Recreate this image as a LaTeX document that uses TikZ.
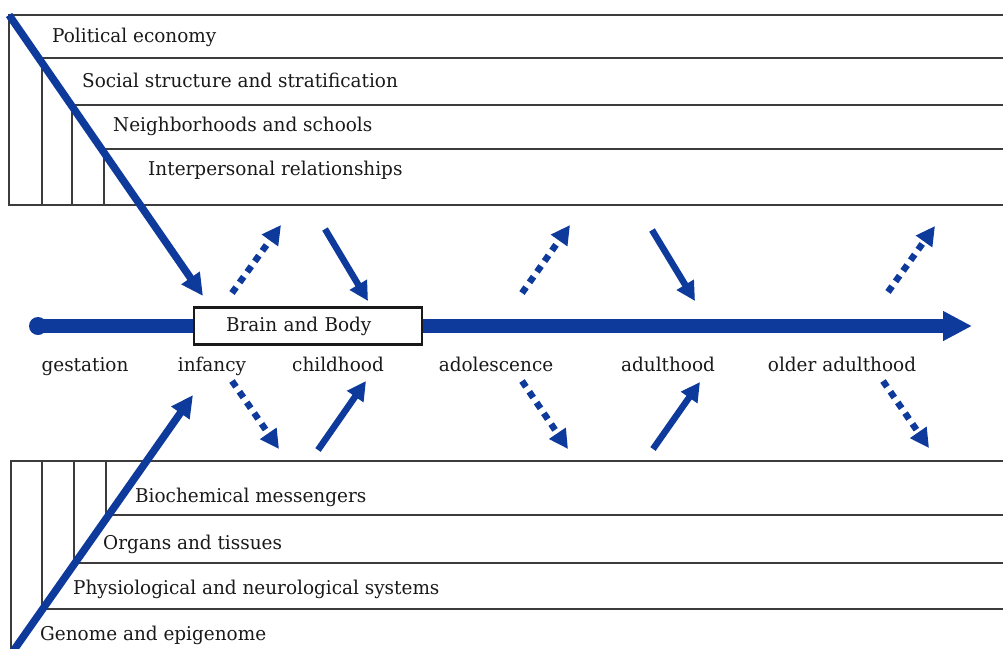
\documentclass[tikz,border=0pt]{standalone}
\usepackage{fontspec}
\setmainfont[FakeStretch=0.97]{DejaVu Serif}
\usetikzlibrary{arrows.meta}
\definecolor{lifeblue}{RGB}{14,58,155}
\definecolor{framegray}{RGB}{60,60,60}
\begin{document}
\begin{tikzpicture}[x=1pt,y=-1pt,
  frameline/.style={draw=framegray,line width=1.2pt},
  labelfont/.style={font=\fontsize{19}{22}\selectfont,text=black!90},
  level/.style={anchor=base west,inner sep=0pt,labelfont},
  stage/.style={anchor=base,inner sep=0pt,labelfont},
  flow/.style={draw=lifeblue,line width=6.5pt,-{Triangle[length=19pt,width=19pt]}},
  dotflow/.style={flow,dash pattern=on 7pt off 6pt},
  bigflow/.style={draw=lifeblue,line width=7.5pt,-{Triangle[length=22pt,width=21pt]}},
  axis/.style={draw=lifeblue,line width=14pt,-{Triangle[length=29pt,width=28pt]}},
  ]
\path[use as bounding box,clip] (0,0) rectangle (1003,648);

% upper nested frame: social context levels
\draw[frameline] (1010,15) -- (9,15) -- (9,205) -- (1010,205);
\draw[frameline] (1010,58) -- (42,58) -- (42,205);
\draw[frameline] (1010,105) -- (72,105) -- (72,205);
\draw[frameline] (1010,149) -- (104,149) -- (104,205);
\node[level] (pol) at (52,42) {Political economy};
\node[level] (soc) at (82,87) {Social structure and stratification};
\node[level] (nbh) at (113,131) {Neighborhoods and schools};
\node[level] (inter) at (148,175) {Interpersonal relationships};

% lower nested frame: biological levels
\draw[frameline] (1010,461) -- (11,461) -- (11,660);
\draw[frameline] (1010,515) -- (106,515) -- (106,461);
\draw[frameline] (1010,563) -- (74,563) -- (74,461);
\draw[frameline] (1010,609) -- (42,609) -- (42,461);
\node[level] (bio) at (135,502) {Biochemical messengers};
\node[level] (org) at (103,549) {Organs and tissues};
\node[level] (phys) at (73,594) {Physiological and neurological systems};
\node[level] (gen) at (40,640) {Genome and epigenome};

% life-course axis
\node[circle,fill=lifeblue,minimum size=18pt,inner sep=0pt] (origin) at (38,326) {};
\coordinate (axisend) at (972,326);
\draw[axis] (origin.center) -- (axisend);
\node[draw=black!90,line width=2.2pt,fill=white,anchor=west,minimum height=37pt,
      inner xsep=32pt,text width=164pt,align=left,labelfont] (bb) at (193,326) {Brain and Body};

% stages
\node[stage] (gest) at (85,371) {gestation};
\node[stage] (inf) at (212,371) {infancy};
\node[stage] (child) at (338,371) {childhood};
\node[stage] (adol) at (496,371) {adolescence};
\node[stage] (adult) at (668,371) {adulthood};
\node[stage] (older) at (842,371) {older adulthood};

% long diagonal influences
\coordinate (ctxsrc) at (9,15);
\coordinate (ctxtip) at (203,296);
\draw[bigflow] (ctxsrc) -- (ctxtip);
\coordinate (biosrc) at (9,657);
\coordinate (biotip) at (193,395);
\draw[bigflow] (biosrc) -- (biotip);

% stage-wise arrows
\coordinate (a1s) at (232,293); \coordinate (a1t) at (281,225);
\coordinate (a2s) at (325,229); \coordinate (a2t) at (368,301);
\coordinate (a3s) at (232,381); \coordinate (a3t) at (279,449);
\coordinate (a4s) at (318,450); \coordinate (a4t) at (366,381);
\coordinate (b1s) at (522,293); \coordinate (b1t) at (570,225);
\coordinate (b2s) at (652,230); \coordinate (b2t) at (695,301);
\coordinate (b3s) at (522,381); \coordinate (b3t) at (568,449);
\coordinate (b4s) at (653,449); \coordinate (b4t) at (700,382);
\coordinate (c1s) at (888,292); \coordinate (c1t) at (935,226);
\coordinate (c3s) at (883,381); \coordinate (c3t) at (929,448);
\draw[dotflow] (a1s) -- (a1t);
\draw[flow] (a2s) -- (a2t);
\draw[dotflow] (a3s) -- (a3t);
\draw[flow] (a4s) -- (a4t);
\draw[dotflow] (b1s) -- (b1t);
\draw[flow] (b2s) -- (b2t);
\draw[dotflow] (b3s) -- (b3t);
\draw[flow] (b4s) -- (b4t);
\draw[dotflow] (c1s) -- (c1t);
\draw[dotflow] (c3s) -- (c3t);
\end{tikzpicture}
\end{document}
